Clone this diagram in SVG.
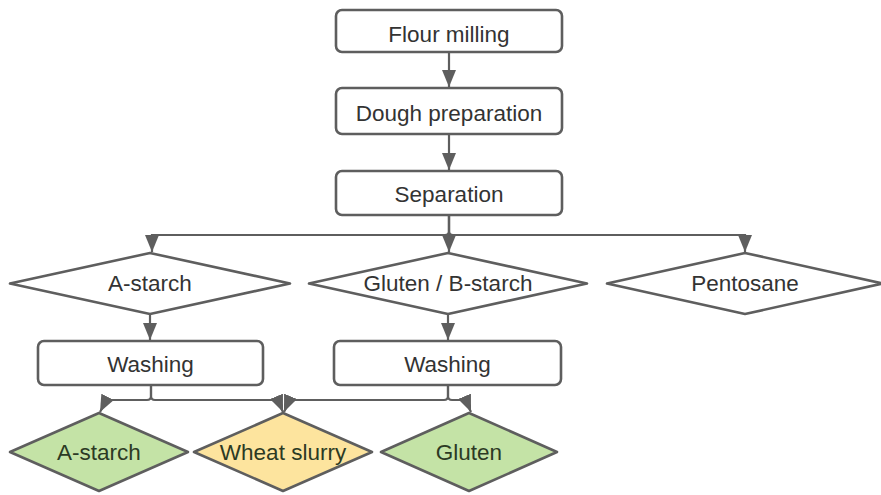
<svg xmlns="http://www.w3.org/2000/svg" width="881" height="495" viewBox="0 0 881 495">
  <style>
    .box { fill: #ffffff; stroke: #5e5e5e; stroke-width: 2.6; }
    .dia { fill: #ffffff; stroke: #5e5e5e; stroke-width: 2.6; stroke-linejoin: round; }
    .green { fill: #c4e3a6; }
    .yellow { fill: #fde49e; }
    .lbl { font-family: "Liberation Sans", Arial, sans-serif; font-size: 22.5px; fill: #333333; text-anchor: middle; }
    .dark { fill: #2c3a24; }
    .conn { fill: none; stroke: #5e5e5e; stroke-width: 2.2; }
  </style>
  <defs>
    <marker id="arrow" markerUnits="userSpaceOnUse" markerWidth="18" markerHeight="14" refX="17" refY="7" orient="auto">
      <path d="M0,0 L17,7 L0,14 z" fill="#5e5e5e"/>
    </marker>
  </defs>

  <rect width="881" height="495" fill="#ffffff"/>

  <!-- connectors -->
  <g id="connectors">
    <path class="conn" d="M449,52 V87" marker-end="url(#arrow)"/>
    <path class="conn" d="M449,134 V170" marker-end="url(#arrow)"/>
    <path class="conn" d="M449,215 V252" marker-end="url(#arrow)"/>
    <path class="conn" d="M449,215 V231 Q449,235 445,235 H152 V252" marker-end="url(#arrow)"/>
    <path class="conn" d="M449,215 V231 Q449,235 453,235 H745 V252" marker-end="url(#arrow)"/>
    <path class="conn" d="M150,314 V340" marker-end="url(#arrow)"/>
    <path class="conn" d="M448,314 V340" marker-end="url(#arrow)"/>
    <!-- outputs of the first washing -->
    <path class="conn" d="M151,385 V396 Q151,400 147,400 H111 Q106,400 100,412" marker-end="url(#arrow)"/>
    <path class="conn" d="M151,385 V396 Q151,400 155,400 H272 Q278,400 283,412" marker-end="url(#arrow)"/>
    <!-- outputs of the second washing -->
    <path class="conn" d="M448,385 V396 Q448,400 444,400 H295 Q289,400 284,412" marker-end="url(#arrow)"/>
    <path class="conn" d="M448,385 V396 Q448,400 452,400 H461 Q466,400 471,412" marker-end="url(#arrow)"/>
  </g>

  <g id="flour-milling">
    <rect class="box" x="336" y="10" width="226" height="42" rx="6"/>
    <text class="lbl" x="449" y="41.5">Flour milling</text>
  </g>
  <g id="dough-preparation">
    <rect class="box" x="336" y="88" width="226" height="46" rx="6"/>
    <text class="lbl" x="449" y="120.5">Dough preparation</text>
  </g>
  <g id="separation">
    <rect class="box" x="336" y="171" width="226" height="44" rx="6"/>
    <text class="lbl" x="449" y="201.5">Separation</text>
  </g>

  <g id="a-starch-fraction">
    <polygon class="dia" points="150,253 290,283.5 150,314 10,283.5"/>
    <text class="lbl" x="150" y="290.5">A-starch</text>
  </g>
  <g id="gluten-b-starch">
    <polygon class="dia" points="448,253 587,283.5 448,314 309,283.5"/>
    <text class="lbl" x="448" y="290.5">Gluten / B-starch</text>
  </g>
  <g id="pentosane">
    <polygon class="dia" points="745,253 883,283.5 745,314 607,283.5"/>
    <text class="lbl" x="745" y="290.5">Pentosane</text>
  </g>

  <g id="washing-a">
    <rect class="box" x="38" y="341" width="225" height="44" rx="6"/>
    <text class="lbl" x="150.5" y="371.5">Washing</text>
  </g>
  <g id="washing-b">
    <rect class="box" x="334" y="341" width="227" height="44" rx="6"/>
    <text class="lbl" x="447.5" y="371.5">Washing</text>
  </g>

  <g id="a-starch-product">
    <polygon class="dia green" points="99,413 188,452 99,491 10,452"/>
    <text class="lbl dark" x="99" y="460">A-starch</text>
  </g>
  <g id="wheat-slurry">
    <polygon class="dia yellow" points="283,413 372,452 283,491 194,452"/>
    <text class="lbl dark" x="283" y="460">Wheat slurry</text>
  </g>
  <g id="gluten-product">
    <polygon class="dia green" points="469,413 557,452 469,491 381,452"/>
    <text class="lbl dark" x="469" y="460">Gluten</text>
  </g>
</svg>
